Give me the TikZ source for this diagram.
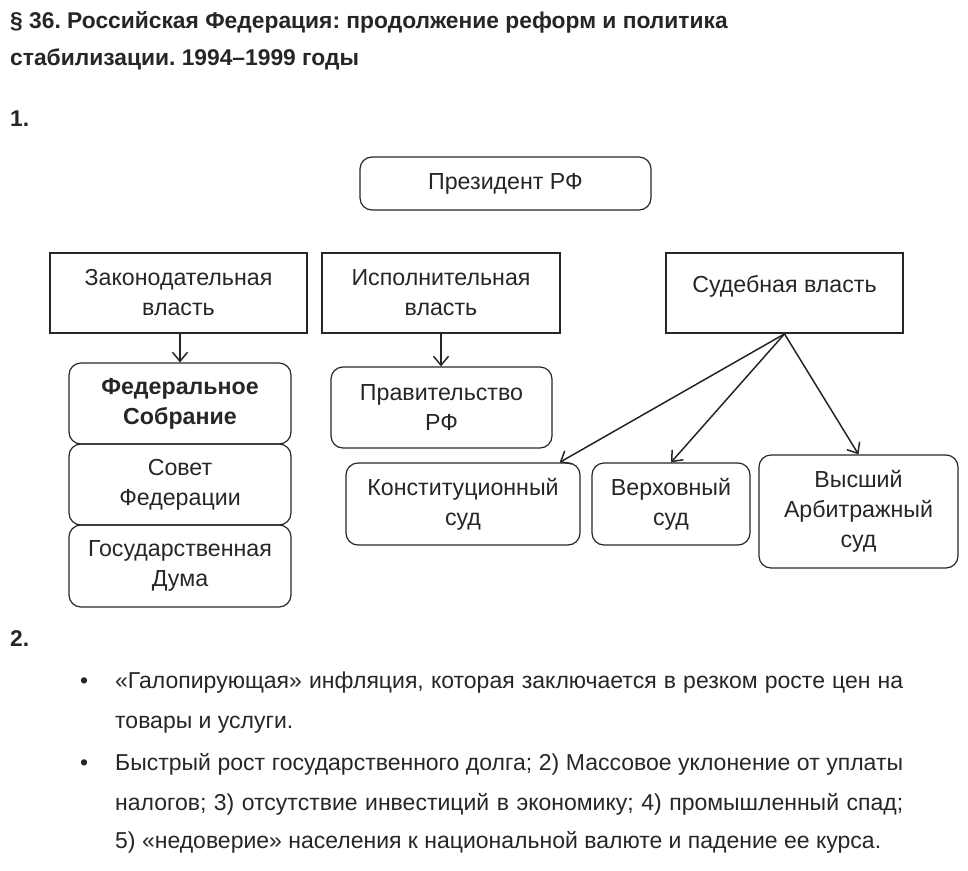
\documentclass[tikz,border=0pt]{standalone}
\usepackage{fontspec}
\setmainfont{Liberation Sans}
\usetikzlibrary{arrows.meta, calc}
\definecolor{inkgray}{RGB}{38,38,38}
\frenchspacing

\begin{document}
\begin{tikzpicture}[x=1pt, y=-1pt,
  branch/.style={draw=inkgray, line width=1.8pt, align=center, text=inkgray, font=\fontsize{23.2}{30}\selectfont},
  organ/.style={draw=inkgray, line width=1.2pt, rounded corners=12pt, align=center, text=inkgray, font=\fontsize{23.2}{30}\selectfont},
  link/.style={-{Straight Barb[length=9pt, width=15pt]}, line width=1.5pt, draw=inkgray},
  heading/.style={anchor=base west, inner sep=0pt, text=inkgray, font=\fontsize{22.8}{26}\selectfont\bfseries},
  para/.style={anchor=base west, inner sep=0pt, text=inkgray, font=\fontsize{23}{26}\selectfont}]
 \useasboundingbox (0,0) rectangle (968,870);

 %heading
 \node[heading] (title1) at (10,28) {§ 36. Российская Федерация: продолжение реформ и политика};
 \node[heading] (title2) at (10,65) {стабилизации. 1994–1999 годы};
 \node[heading] (task1) at (10,126) {1.};

 %branches of power
 \node[organ, minimum width=291pt, minimum height=53pt] (pres) at (505.5,183.5) {Президент РФ};
 \node[branch, minimum width=257pt, minimum height=80pt] (leg) at (178.5,293) {Законодательная\\власть};
 \node[branch, minimum width=238pt, minimum height=80pt] (exe) at (441,293) {Исполнительная\\власть};
 \node[branch, minimum width=237pt, minimum height=80pt] (jud) at (784.5,293) {\raisebox{18pt}{Судебная власть}};

 %organs
 \node[organ, minimum width=222pt, minimum height=81pt, font=\fontsize{23.2}{30}\selectfont\bfseries] (fed) at (180,403.5) {Федеральное\\Собрание};
 \node[organ, minimum width=222pt, minimum height=81pt] (sovet) at (180,484.5) {Совет\\Федерации};
 \node[organ, minimum width=222pt, minimum height=82pt] (duma) at (180,566) {Государственная\\Дума};
 \node[organ, minimum width=221pt, minimum height=81pt] (prav) at (441.5,407.5) {Правительство\\РФ};
 \node[organ, minimum width=234pt, minimum height=82pt] (konst) at (463,504) {Конституционный\\суд};
 \node[organ, minimum width=158pt, minimum height=82pt] (verh) at (671,504) {Верховный\\суд};
 \node[organ, minimum width=199pt, minimum height=113pt] (vas) at (858.5,511.5) {Высший\\Арбитражный\\суд};

 %arrows
 \draw[link] (leg.south -| fed.north) -- (fed.north);
 \draw[link] (exe.south) -- (exe.south |- prav.north);
 \draw[link] (jud.south) -- ($(konst.north east)+(-21,0)$);
 \draw[link] (jud.south) -- (verh.north);
 \draw[link] (jud.south) -- (vas.north);

 %part 2
 \node[heading] (task2) at (10,646) {2.};
 \node[para] (dot1) at (80,688) {•};
 \node[para] (line1) at (115,688) {\makebox[788pt][s]{«Галопирующая» инфляция, которая заключается в резком росте цен на}};
 \node[para] (line2) at (115,728) {товары и услуги.};
 \node[para] (dot2) at (80,770) {•};
 \node[para] (line3) at (115,770) {\makebox[788pt][s]{Быстрый рост государственного долга; 2) Массовое уклонение от уплаты}};
 \node[para] (line4) at (115,810) {\makebox[788pt][s]{налогов; 3) отсутствие инвестиций в экономику; 4) промышленный спад;}};
 \node[para] (line5) at (115,848) {5) «недоверие» населения к национальной валюте и падение ее курса.};
\end{tikzpicture}
\end{document}
